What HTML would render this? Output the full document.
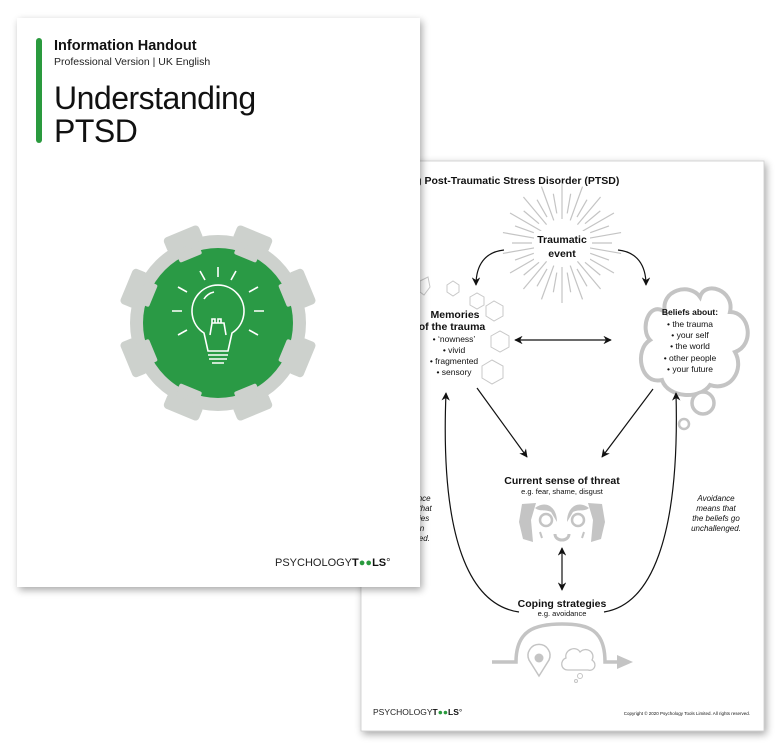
<!DOCTYPE html>
<html><head><meta charset="utf-8"><style>
html,body{margin:0;padding:0;background:#fff;}
svg{display:block;font-family:"Liberation Sans",sans-serif;}
.b{font-weight:bold;}
</style></head><body>
<svg width="781" height="750" viewBox="0 0 781 750" xmlns="http://www.w3.org/2000/svg">
<defs>
<filter id="sh" x="-10%" y="-10%" width="130%" height="130%"><feGaussianBlur in="SourceAlpha" stdDeviation="4"/><feOffset dx="2" dy="3"/><feComponentTransfer><feFuncA type="linear" slope="0.35"/></feComponentTransfer><feMerge><feMergeNode/><feMergeNode in="SourceGraphic"/></feMerge></filter>
<marker id="ah" viewBox="0 0 10 10" refX="9" refY="5" markerWidth="7" markerHeight="7" orient="auto-start-reverse"><path d="M0,0 L10,5 L0,10 L3,5z" fill="#111"/></marker>
<line id="rl" x1="0" y1="-24" x2="0" y2="-60"/>
<line id="rs" x1="0" y1="-30" x2="0" y2="-50"/>
<rect id="tooth" x="-19" y="-99" width="38" height="16" rx="4"/>
<rect id="notch" x="-12" y="-79" width="24" height="9" rx="2"/>
</defs>
<rect width="781" height="750" fill="#fff"/>
<!-- back page -->
<rect x="361" y="161" width="403" height="570" fill="#fff" stroke="#ccc" stroke-width="0.8" filter="url(#sh)"/>
<text x="393" y="184" font-size="10.5" class="b" fill="#111">nding Post-Traumatic Stress Disorder (PTSD)</text>
<!-- sunburst -->
<g transform="translate(562,243)" stroke="#c4c4c4" stroke-width="1.2">
<use href="#rl" transform="rotate(0)"/><use href="#rs" transform="rotate(10)"/><use href="#rl" transform="rotate(20)"/><use href="#rs" transform="rotate(30)"/><use href="#rl" transform="rotate(40)"/><use href="#rs" transform="rotate(50)"/><use href="#rl" transform="rotate(60)"/><use href="#rs" transform="rotate(70)"/><use href="#rl" transform="rotate(80)"/><use href="#rs" transform="rotate(90)"/><use href="#rl" transform="rotate(100)"/><use href="#rs" transform="rotate(110)"/><use href="#rl" transform="rotate(120)"/><use href="#rs" transform="rotate(130)"/><use href="#rl" transform="rotate(140)"/><use href="#rs" transform="rotate(150)"/><use href="#rl" transform="rotate(160)"/><use href="#rs" transform="rotate(170)"/><use href="#rl" transform="rotate(180)"/><use href="#rs" transform="rotate(190)"/><use href="#rl" transform="rotate(200)"/><use href="#rs" transform="rotate(210)"/><use href="#rl" transform="rotate(220)"/><use href="#rs" transform="rotate(230)"/><use href="#rl" transform="rotate(240)"/><use href="#rs" transform="rotate(250)"/><use href="#rl" transform="rotate(260)"/><use href="#rs" transform="rotate(270)"/><use href="#rl" transform="rotate(280)"/><use href="#rs" transform="rotate(290)"/><use href="#rl" transform="rotate(300)"/><use href="#rs" transform="rotate(310)"/><use href="#rl" transform="rotate(320)"/><use href="#rs" transform="rotate(330)"/><use href="#rl" transform="rotate(340)"/><use href="#rs" transform="rotate(350)"/>
</g>
<rect x="534" y="231" width="56" height="29" fill="#fff"/>
<text x="562" y="243" font-size="10.5" class="b" text-anchor="middle" fill="#111">Traumatic</text>
<text x="562" y="257" font-size="10.5" class="b" text-anchor="middle" fill="#111">event</text>
<!-- hexagons -->
<g fill="none" stroke="#c8c8c8" stroke-width="1">
<polygon points="447,285 453,281 459,285 459,292 453,296 447,292"/>
<polygon points="470,297 477,293 484,297 484,305 477,309 470,305"/>
<polygon points="486,306 494,301 503,306 503,316 494,321 486,316"/>
<polygon points="491,336 500,331 509,336 509,347 500,352 491,347"/>
<polygon points="482,366 492,360 503,366 503,378 492,384 482,378"/>
<polygon points="420,281 428,277 430,287 424,295 420,292"/>
</g>
<text x="455" y="318" font-size="10.5" class="b" text-anchor="middle" fill="#111">Memories</text>
<text x="452" y="330" font-size="10.5" class="b" text-anchor="middle" fill="#111">of the trauma</text>
<g font-size="8.5" text-anchor="middle" fill="#111">
<text x="454" y="342">• ‘nowness’</text><text x="454" y="353">• vivid</text><text x="454" y="364">• fragmented</text><text x="454" y="375">• sensory</text>
</g>
<!-- cloud -->
<g fill="#fff" stroke="#c4c4c4" stroke-width="4">
<path d="M665,312 C648,300 640,330 650,340 C634,350 640,385 662,380 C668,398 700,400 710,385 C730,392 745,370 735,352 C755,345 750,312 730,312 C735,290 705,280 700,297 C690,282 660,290 665,312z"/>
<circle cx="703" cy="403" r="11" stroke-width="3.5"/>
<circle cx="684" cy="424" r="5" stroke-width="2.5"/>
</g>
<g font-size="8.5" text-anchor="middle" fill="#111">
<text x="690" y="315" class="b">Beliefs about:</text>
<text x="690" y="327">• the trauma</text><text x="690" y="338">• your self</text><text x="690" y="349">• the world</text><text x="690" y="361">• other people</text><text x="690" y="372">• your future</text>
</g>
<!-- arrows -->
<g fill="none" stroke="#111" stroke-width="1.2">
<path d="M504,250 C485,252 476,265 476,285" marker-end="url(#ah)"/>
<path d="M618,250 C637,252 646,265 646,285" marker-end="url(#ah)"/>
<path d="M515,340 L611,340" marker-start="url(#ah)" marker-end="url(#ah)"/>
<path d="M477,388 L527,457" marker-end="url(#ah)"/>
<path d="M653,389 L602,457" marker-end="url(#ah)"/>
<path d="M562,548 L562,590" marker-start="url(#ah)" marker-end="url(#ah)"/>
<path d="M519,612 C470,605 440,540 446,393" marker-end="url(#ah)"/>
<path d="M604,612 C650,605 680,540 676,393" marker-end="url(#ah)"/>
</g>
<text x="562" y="484" font-size="10.5" class="b" text-anchor="middle" fill="#111">Current sense of threat</text>
<text x="562" y="494" font-size="7.5" text-anchor="middle" fill="#111">e.g. fear, shame, disgust</text>
<!-- face -->
<g fill="#c4c4c4">
<path d="M522,504 L536,503 L531,520 L533,542 L523,539 L519,522z"/>
<path d="M602,504 L588,503 L593,520 L591,542 L601,539 L605,522z"/>
<path d="M535,508 C545,500 557,506 557,522 L551,512 C545,509 540,512 535,508z"/>
<path d="M589,508 C579,500 567,506 567,522 L573,512 C579,509 584,512 589,508z"/>
</g>
<g fill="none" stroke="#c4c4c4">
<circle cx="546" cy="520" r="6" stroke-width="2.5"/>
<circle cx="578" cy="520" r="6" stroke-width="2.5"/>
<path d="M555,534 C555,542 569,542 569,534" stroke-width="3"/>
<path d="M540,532 L542,538 M584,532 L582,538" stroke-width="2"/>
</g>
<text x="562" y="607" font-size="10.5" class="b" text-anchor="middle" fill="#111">Coping strategies</text>
<text x="562" y="616" font-size="7.5" text-anchor="middle" fill="#111">e.g. avoidance</text>
<!-- avoidance icon -->
<g fill="none" stroke="#c4c4c4" stroke-width="3.5">
<path d="M492,662 L516,662 C516,630 535,624 562,624 C589,624 605,630 605,662 L620,662"/>
</g>
<path d="M617,655 L633,662 L617,669z" fill="#c4c4c4"/>
<path d="M539,676 L529,660 A11,11 0 1 1 549,660z" fill="none" stroke="#c4c4c4" stroke-width="1.5"/>
<circle cx="539" cy="658" r="4.5" fill="#c4c4c4"/>
<path d="M568,670 C560,670 560,660 566,658 C564,650 576,645 580,652 C586,646 596,652 592,660 C598,664 594,672 588,670z" fill="none" stroke="#c4c4c4" stroke-width="1.3"/>
<circle cx="580" cy="676" r="2.5" fill="none" stroke="#c4c4c4" stroke-width="1"/>
<circle cx="576" cy="681" r="1.5" fill="none" stroke="#c4c4c4" stroke-width="1"/>
<g font-size="8" font-style="italic" text-anchor="middle" fill="#111">
<text x="716" y="501">Avoidance</text><text x="716" y="511">means that</text><text x="716" y="521">the beliefs go</text><text x="716" y="531">unchallenged.</text>
<text x="412" y="501">Avoidance</text><text x="412" y="511">means that</text><text x="405" y="521">the memories</text><text x="412" y="531">remain</text><text x="405" y="541">unchallenged.</text>
</g>
<text x="373" y="715" font-size="8.5" fill="#222">PSYCHOLOGY<tspan font-weight="bold" fill="#111">T<tspan fill="#2a9a3e">●●</tspan>LS</tspan>°</text>
<text x="750" y="715" font-size="4.5" text-anchor="end" fill="#111">Copyright © 2020 Psychology Tools Limited. All rights reserved.</text>
<!-- front page -->
<rect x="17" y="18" width="403" height="569" fill="#fff" filter="url(#sh)"/>
<rect x="36" y="38" width="6" height="105" rx="3" fill="#2a9a3e"/>
<text x="54" y="50" font-size="14.5" class="b" fill="#111">Information Handout</text>
<text x="54" y="65" font-size="10.5" fill="#222">Professional Version | UK English</text>
<text x="54" y="109" font-size="32" fill="#111" style="letter-spacing:-0.5px">Understanding</text>
<text x="54" y="142" font-size="32" fill="#111" style="letter-spacing:-0.5px">PTSD</text>
<!-- gear -->
<g transform="translate(218,323)">
<g fill="#cdd1cd">
<circle r="88"/>
<use href="#tooth" transform="rotate(22.5)"/><use href="#tooth" transform="rotate(67.5)"/><use href="#tooth" transform="rotate(112.5)"/><use href="#tooth" transform="rotate(157.5)"/><use href="#tooth" transform="rotate(202.5)"/><use href="#tooth" transform="rotate(247.5)"/><use href="#tooth" transform="rotate(292.5)"/><use href="#tooth" transform="rotate(337.5)"/>
</g>
<circle r="75" fill="#2a9a45"/>
<g fill="#cdd1cd">
<use href="#notch" transform="rotate(22.5)"/><use href="#notch" transform="rotate(67.5)"/><use href="#notch" transform="rotate(112.5)"/><use href="#notch" transform="rotate(157.5)"/><use href="#notch" transform="rotate(202.5)"/><use href="#notch" transform="rotate(247.5)"/><use href="#notch" transform="rotate(292.5)"/><use href="#notch" transform="rotate(337.5)"/>
</g>
<g fill="none" stroke="#fff" stroke-width="1.6">
<path d="M-14,10 A26,26 0 1 1 14,10 L10,28 L-10,28 Z"/>
<path d="M-10,32 H10 M-9,36 H9 M-6,40 H6"/>
<path d="M-8,12 L-6,0 L6,0 L8,12 M-6,0 v-4 h3 v4 h3 v-4 h3 v4"/>
<path d="M0,-56 V-46 M-18,-52 L-13,-43 M18,-52 L13,-43 M-40,-36 L-31,-31 M40,-36 L31,-31 M-46,-12 H-36 M46,-12 H36 M-40,12 L-31,7 M40,12 L31,7"/>
<path d="M-14,-24 A16,16 0 0 1 -4,-31"/>
</g>
</g>
<text x="275" y="566" font-size="11" fill="#222">PSYCHOLOGY<tspan font-weight="bold" fill="#111">T<tspan fill="#2a9a3e">●●</tspan>LS</tspan>°</text>
</svg>
</body></html>
